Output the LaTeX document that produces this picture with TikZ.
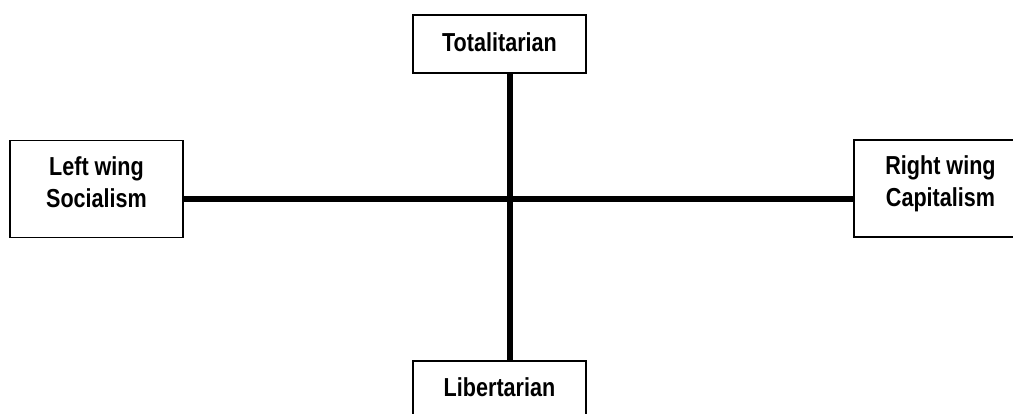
\documentclass[tikz,border=0pt]{standalone}
\usepackage{fontspec}
\setmainfont{Liberation Sans}[FakeStretch=0.83]
\usepackage{tikz}
\usetikzlibrary{calc}
\usetikzlibrary{positioning}
\tikzset{every picture/.style={semithick, >=stealth}}
\tikzset{block/.style={draw,line width=1.5pt,minimum width=173pt,align=center,font=\fontsize{26}{32}\selectfont\bfseries}}
\tikzset{axisline/.style={line width=6.5pt}}

\begin{document}
\begin{tikzpicture}[x=1pt,y=-1pt]
        \clip (0,0) rectangle (1013,414);
        \node [block,minimum height=58pt,text depth=4pt] (tot) at (499.5,44) {Totalitarian};
        \node [block,minimum height=58pt,text depth=5pt] (lib) at (499.5,390) {Libertarian};
        \node [block,minimum height=97pt,text depth=14pt] (left) at (96.5,189) {Left wing\\Socialism};
        \node [block,minimum height=97pt,text depth=14pt] (right) at (940.5,188.5) {Right wing\\Capitalism};
        \coordinate (mid) at (510,199);
        \draw [axisline] (mid -| left.east) -- (mid -| right.west);
        \draw [axisline] (mid |- tot.south) -- (mid |- lib.north);
        \end{tikzpicture}
\end{document}
